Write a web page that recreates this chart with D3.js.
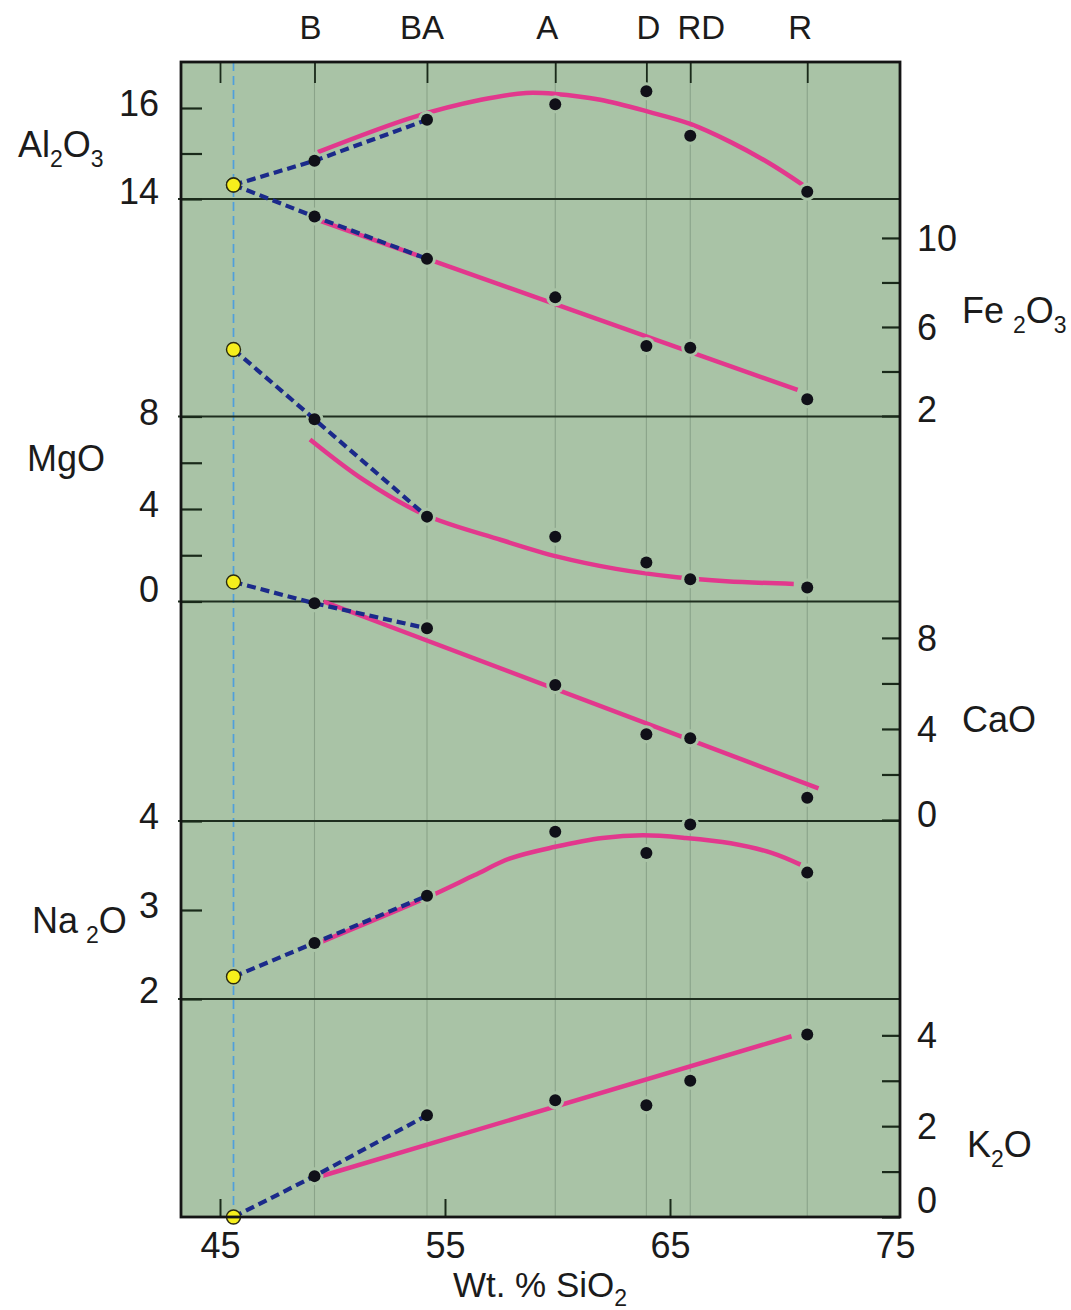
<!DOCTYPE html>
<html>
<head>
<meta charset="utf-8">
<script src="https://cdn.jsdelivr.net/npm/d3@7"></script>
<style>
  body { margin: 0; background: #ffffff; }
  svg text { font-family: "Liberation Sans", Arial, sans-serif; fill: #1b1b1b; }
</style>
</head>
<body>
<svg id="chart" width="1071" height="1310"></svg>
<script>
// ---- Rock types along the silica axis (wt.% SiO2) ----
const rockNames = ["B", "BA", "A", "D", "RD", "R"];
const rockSiO2  = [49.2, 54.2, 59.9, 63.95, 65.9, 71.1];
const parentSiO2 = 45.6;

// ---- Measured oxide contents (wt.%) for each rock type ----
const al2o3 = [14.84, 15.74, 16.08, 16.37, 15.39, 14.16];
const fe2o3 = [10.96, 9.06, 7.33, 5.15, 5.07, 2.75];
const mgo   = [7.88, 3.67, 2.80, 1.69, 0.96, 0.61];
const cao   = [9.52, 8.42, 5.93, 3.77, 3.59, 0.98];
const na2o  = [2.63, 3.16, 3.88, 3.64, 3.96, 3.42];
const k2o   = [0.90, 2.24, 2.57, 2.46, 3.00, 4.02];

// ---- Parent magma (wt.%) ----
const parentAl2O3 = 14.31;
const parentFe2O3 = 12.38;
const parentMgO   = 10.9;
const parentCaO   = 10.46;
const parentNa2O  = 2.25;
const parentK2O   = 0;

// ---- Observed trend curves [SiO2, oxide] ----
const al2o3Trend = [[49.35, 15.03], [53.6, 15.80], [56.6, 16.18], [58.6, 16.33], [59.9, 16.31],
                    [61.9, 16.18], [64.1, 15.91], [65.9, 15.65], [67.7, 15.25], [69.4, 14.79], [70.9, 14.31]];
const fe2o3Trend = [[49.3, 10.82], [70.67, 3.17]];
const mgoTrend   = [[49.0, 7.01], [51.4, 5.25], [54.1, 3.75], [57.5, 2.66], [60.0, 1.94],
                    [62.6, 1.41], [65.3, 1.05], [67.5, 0.88], [70.5, 0.76]];
const caoTrend   = [[49.6, 9.6], [71.6, 1.39]];
const na2oTrend  = [[49.3, 2.62], [54.2, 3.14], [56.3, 3.39], [57.9, 3.58], [59.9, 3.71], [62.0, 3.81],
                    [63.8, 3.84], [65.7, 3.81], [67.7, 3.75], [69.55, 3.64], [70.8, 3.51]];
const k2oTrend   = [[49.3, 0.87], [70.4, 3.98]];

// ---- Axis ticks ----
const xTickValues = [45, 55, 65, 75];
const al2o3Ticks = [14, 15, 16],         al2o3Labels = [14, 16];
const fe2o3Ticks = [2, 4, 6, 8, 10],     fe2o3Labels = [2, 6, 10];
const mgoTicks   = [0, 2, 4, 6, 8],      mgoLabels   = [0, 4, 8];
const caoTicks   = [0, 2, 4, 6, 8],      caoLabels   = [0, 4, 8];
const na2oTicks  = [2, 3, 4],            na2oLabels  = [2, 3, 4];
const k2oTicks   = [0, 1, 2, 3, 4],      k2oLabels   = [0, 2, 4];

// ---- Layout ----
const L = 181, R = 900, T = 62, B = 1217;
const bg = "#a9c3a6";
const pink = "#e2388d";
const navy = "#1b2a8a";

const svg = d3.select("#chart");
const x = d3.scaleLinear().domain([45, 75]).range([220, 895]);

// stacked panels, each with its own vertical scale
const panels = [
  { key: "al2o3", side: "left",  y: d3.scaleLinear().domain([14, 17]).range([199, 62.5]),
    vals: al2o3, parent: parentAl2O3, trend: al2o3Trend, ticks: al2o3Ticks, labels: al2o3Labels },
  { key: "fe2o3", side: "right", y: d3.scaleLinear().domain([2, 11.75]).range([416, 199]),
    vals: fe2o3, parent: parentFe2O3, trend: fe2o3Trend, ticks: fe2o3Ticks, labels: fe2o3Labels },
  { key: "mgo",   side: "left",  y: d3.scaleLinear().domain([0, 8]).range([601.5, 416.5]),
    vals: mgo, parent: parentMgO, trend: mgoTrend, ticks: mgoTicks, labels: mgoLabels },
  { key: "cao",   side: "right", y: d3.scaleLinear().domain([0, 9.6]).range([820, 601.5]),
    vals: cao, parent: parentCaO, trend: caoTrend, ticks: caoTicks, labels: caoLabels },
  { key: "na2o",  side: "left",  y: d3.scaleLinear().domain([2, 4]).range([999, 821]),
    vals: na2o, parent: parentNa2O, trend: na2oTrend, ticks: na2oTicks, labels: na2oLabels },
  { key: "k2o",   side: "right", y: d3.scaleLinear().domain([0, 4.8]).range([1217, 999]),
    vals: k2o, parent: parentK2O, trend: k2oTrend, ticks: k2oTicks, labels: k2oLabels }
];

// plot background
svg.append("rect").attr("x", L).attr("y", T).attr("width", R - L).attr("height", B - T).attr("fill", bg);

// thin vertical guides at each rock type
svg.append("g").selectAll("line").data(rockSiO2).join("line")
  .attr("x1", d => x(d)).attr("x2", d => x(d)).attr("y1", T).attr("y2", B)
  .attr("stroke", "#8aa389").attr("stroke-width", 1.1);

// parent-magma silica line
svg.append("line")
  .attr("x1", x(parentSiO2)).attr("x2", x(parentSiO2)).attr("y1", T).attr("y2", B)
  .attr("stroke", "#4f9fdc").attr("stroke-width", 1.7).attr("stroke-dasharray", "9,5");

// panel dividers
const dividers = panels.slice(1).map(p => p.y.range()[1]);
svg.append("g").selectAll("line").data(dividers).join("line")
  .attr("x1", L - 3).attr("x2", R).attr("y1", d => d).attr("y2", d => d)
  .attr("stroke", "#1f2e1f").attr("stroke-width", 1.8);

// vertical axes per panel
panels.forEach(p => {
  const isLeft = p.side === "left";
  const axis = (isLeft ? d3.axisLeft(p.y) : d3.axisRight(p.y))
    .tickValues(p.ticks)
    .tickSizeInner(isLeft ? -21 : -18)
    .tickSizeOuter(0)
    .tickPadding(isLeft ? 22 : 17)
    .tickFormat(d => p.labels.includes(d) ? d : "");
  const g = svg.append("g")
    .attr("transform", `translate(${isLeft ? L : R},0)`)
    .call(axis);
  g.select(".domain").remove();
  g.selectAll(".tick line").attr("stroke", "#1a2a1a").attr("stroke-width", 2.2);
  const lo = p.y.domain()[0];
  const loShift = { al2o3: -7, fe2o3: -6, mgo: -12, cao: -5, na2o: -8, k2o: -16 }[p.key];
  g.selectAll(".tick text")
    .attr("font-size", 36)
    .attr("fill", "#1b1b1b")
    .attr("font-family", "Liberation Sans, Arial, sans-serif")
    .attr("transform", d => `translate(0,${d === lo ? loShift : (isLeft ? -4 : 1)})`);
});

// bottom axis
const xAxis = svg.append("g").attr("transform", `translate(0,${B})`)
  .call(d3.axisBottom(x).tickValues(xTickValues).tickSizeInner(-18).tickSizeOuter(0).tickPadding(15));
xAxis.select(".domain").remove();
xAxis.selectAll(".tick line").attr("stroke", "#1a2a1a").attr("stroke-width", 2)
  .attr("opacity", d => d === 75 ? 0 : 1);
xAxis.selectAll(".tick text").attr("font-size", 36).attr("fill", "#1b1b1b")
  .attr("font-family", "Liberation Sans, Arial, sans-serif");

// top axis: tick marks at the parent and each rock type
const topAxis = svg.append("g").attr("transform", `translate(0,${T})`)
  .call(d3.axisTop(x).tickValues([45].concat(rockSiO2)).tickSizeInner(-21).tickSizeOuter(0).tickFormat(""));
topAxis.select(".domain").remove();
topAxis.selectAll(".tick line").attr("stroke", "#1a2a1a").attr("stroke-width", 1.8);

// rock-type names along the top
const nameNudge = { B: -4, BA: -5, A: -8, D: 2, RD: 11, R: -7 };
svg.append("g").selectAll("text").data(rockNames).join("text")
  .attr("x", (d, i) => x(rockSiO2[i]) + nameNudge[d])
  .attr("y", 39)
  .attr("text-anchor", "middle")
  .attr("font-size", 33)
  .text(d => d);

// trend curves, with background halos around the samples
const plotG = svg.append("g");
panels.forEach(p => {
  const line = d3.line().x(d => x(d[0])).y(d => p.y(d[1]))
    .curve(p.trend.length > 2 ? d3.curveCatmullRom.alpha(0.5) : d3.curveLinear);
  plotG.append("path").attr("d", line(p.trend))
    .attr("fill", "none").attr("stroke", pink).attr("stroke-width", 4.5).attr("stroke-linecap", "butt");
});
panels.forEach(p => {
  plotG.append("g").selectAll("circle").data(p.vals).join("circle")
    .attr("cx", (d, i) => x(rockSiO2[i])).attr("cy", d => p.y(d))
    .attr("r", 9).attr("fill", bg);
});

// fractionation paths from the parent magma through B and BA
panels.forEach(p => {
  const path = [[parentSiO2, p.parent], [rockSiO2[0], p.vals[0]], [rockSiO2[1], p.vals[1]]];
  plotG.append("path")
    .attr("d", d3.line().x(d => x(d[0])).y(d => p.y(d[1]))(path))
    .attr("fill", "none").attr("stroke", navy).attr("stroke-width", 4.2)
    .attr("stroke-dasharray", "9,5");
});

// sample points
panels.forEach(p => {
  plotG.append("g").selectAll("circle").data(p.vals).join("circle")
    .attr("cx", (d, i) => x(rockSiO2[i])).attr("cy", d => p.y(d))
    .attr("r", 6).attr("fill", "#101018");
});

// parent magma points
panels.forEach(p => {
  plotG.append("circle")
    .attr("cx", x(parentSiO2)).attr("cy", p.y(p.parent))
    .attr("r", 7).attr("fill", "#f6ee1c").attr("stroke", "#2a2a10").attr("stroke-width", 1.4);
});

// plot frame
svg.append("rect").attr("x", L).attr("y", T).attr("width", R - L).attr("height", B - T)
  .attr("fill", "none").attr("stroke", "#141414").attr("stroke-width", 2.8);

// oxide names with subscripts
function formula(xPos, yPos, parts) {
  const t = svg.append("text").attr("x", xPos).attr("y", yPos).attr("font-size", 36);
  parts.forEach(([s, sub, gap], i) => {
    const ts = t.append("tspan").text(s);
    const prevSub = i > 0 && parts[i - 1][1];
    if (sub) ts.attr("font-size", 23).attr("dy", 10);
    else if (prevSub) ts.attr("dy", -10);
    if (gap) ts.attr("dx", gap);
  });
}
formula(18, 157, [["Al"], ["2", true], ["O"], ["3", true]]);
formula(962, 323, [["Fe"], ["2", true, 9], ["O"], ["3", true]]);
formula(27, 471, [["MgO"]]);
formula(962, 732, [["CaO"]]);
formula(32, 933, [["Na"], ["2", true, 8], ["O"]]);
formula(967, 1157, [["K"], ["2", true], ["O"]]);

// silica axis title
const xt = svg.append("text").attr("x", 540).attr("y", 1297).attr("text-anchor", "middle").attr("font-size", 35);
xt.append("tspan").text("Wt. % SiO");
xt.append("tspan").text("2").attr("font-size", 23).attr("dy", 9);
</script>
</body>
</html>
